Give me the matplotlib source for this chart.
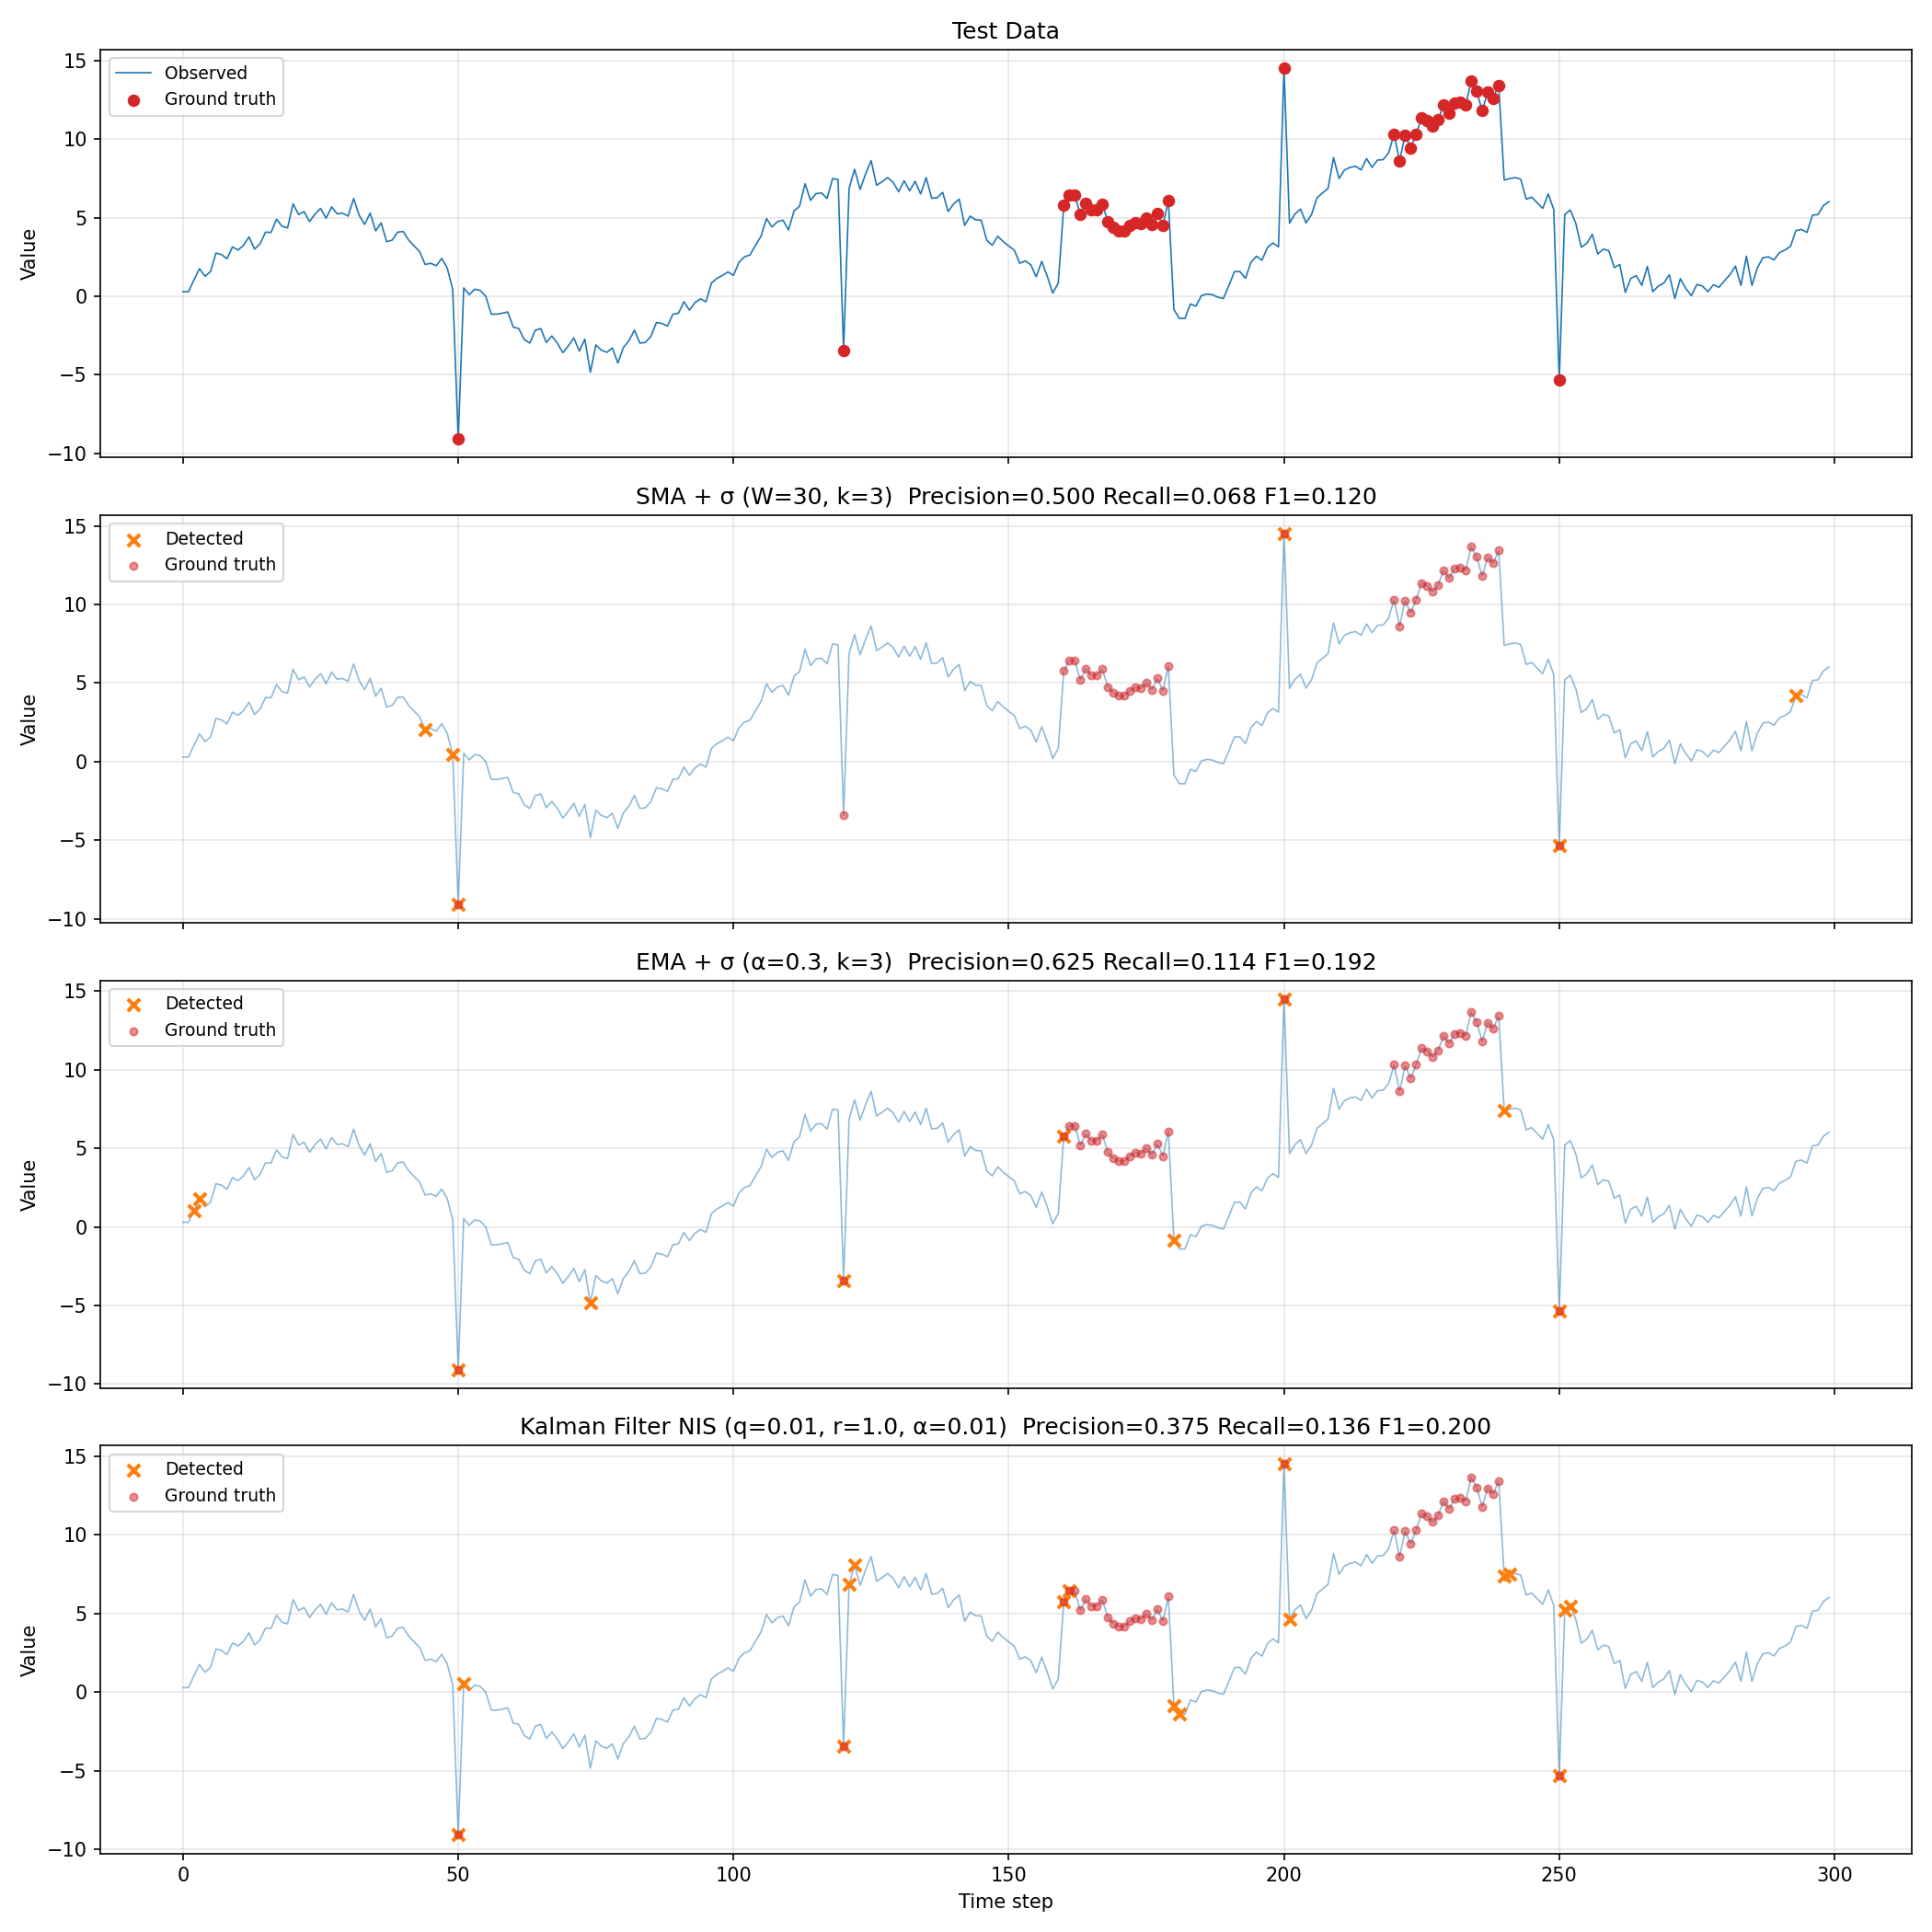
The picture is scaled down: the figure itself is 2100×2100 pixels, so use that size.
import numpy as np
import matplotlib
matplotlib.use("Agg")
import matplotlib.pyplot as plt

values = [
    0.29, 0.29, 1.04, 1.76, 1.27, 1.57, 2.75, 2.65, 2.39, 3.14,
    2.94, 3.24, 3.78, 3.00, 3.33, 4.08, 4.06, 4.90, 4.45, 4.35,
    5.88, 5.20, 5.39, 4.75, 5.24, 5.59, 4.96, 5.69, 5.24, 5.29,
    5.10, 6.22, 5.16, 4.57, 5.29, 4.16, 4.67, 3.47, 3.57, 4.08,
    4.12, 3.57, 3.20, 2.84, 2.02, 2.10, 1.94, 2.41, 1.80, 0.45,
    -9.08, 0.53, 0.10, 0.45, 0.37, 0.00, -1.14, -1.14, -1.08, -1.00,
    -1.96, -2.06, -2.75, -2.98, -2.16, -2.06, -2.94, -2.53, -2.98, -3.59,
    -3.16, -2.65, -3.49, -2.73, -4.84, -3.10, -3.43, -3.57, -3.29, -4.25,
    -3.27, -2.84, -2.16, -2.98, -2.94, -2.55, -1.67, -1.73, -1.90, -1.14,
    -1.08, -0.35, -0.88, -0.41, -0.16, -0.35, 0.84, 1.14, 1.33, 1.55,
    1.33, 2.16, 2.51, 2.63, 3.24, 3.82, 4.94, 4.41, 4.75, 4.84,
    4.22, 5.43, 5.73, 7.16, 6.10, 6.53, 6.57, 6.22, 7.49, 7.43,
    -3.43, 6.86, 8.08, 6.80, 7.78, 8.63, 7.06, 7.29, 7.55, 7.25,
    6.65, 7.35, 6.71, 7.31, 6.51, 7.55, 6.24, 6.27, 6.61, 5.39,
    5.88, 6.18, 4.51, 5.10, 4.86, 4.84, 3.57, 3.24, 3.82, 3.48,
    3.20, 2.94, 2.10, 2.25, 2.00, 1.24, 2.22, 1.27, 0.20, 0.84,
    5.78, 6.43, 6.43, 5.20, 5.92, 5.49, 5.49, 5.88, 4.75, 4.37,
    4.18, 4.18, 4.51, 4.71, 4.65, 5.00, 4.57, 5.29, 4.51, 6.08,
    -0.84, -1.41, -1.41, -0.49, -0.63, 0.04, 0.14, 0.10, -0.06, -0.14,
    0.69, 1.57, 1.57, 1.14, 2.16, 2.55, 2.29, 3.10, 3.39, 3.14,
    14.51, 4.65, 5.24, 5.55, 4.67, 5.20, 6.27, 6.57, 6.86, 8.82,
    7.49, 8.04, 8.20, 8.27, 8.04, 8.76, 8.20, 8.67, 8.69, 9.12,
    10.31, 8.61, 10.25, 9.45, 10.31, 11.37, 11.18, 10.82, 11.24, 12.16,
    11.67, 12.29, 12.35, 12.16, 13.67, 13.04, 11.80, 12.98, 12.61, 13.43,
    7.39, 7.49, 7.55, 7.45, 6.18, 6.31, 5.94, 5.59, 6.51, 5.53,
    -5.33, 5.20, 5.49, 4.65, 3.12, 3.37, 3.94, 2.69, 3.00, 2.90,
    1.82, 2.02, 0.24, 1.14, 1.31, 0.69, 1.90, 0.29, 0.65, 0.84,
    1.37, -0.14, 1.12, 0.49, 0.04, 0.75, 0.65, 0.29, 0.73, 0.57,
    0.98, 1.37, 1.92, 0.69, 2.55, 0.69, 1.82, 2.45, 2.51, 2.31,
    2.78, 2.94, 3.18, 4.18, 4.25, 4.06, 5.16, 5.20, 5.78, 6.02,
]

ground_truth_idx = [50, 120] + list(range(160, 180)) + [200] + list(range(220, 240)) + [250]

sma_detected = [44, 49, 50, 200, 250, 293]
ema_detected = [2, 3, 50, 74, 120, 160, 180, 200, 240, 250]
kalman_detected = [50, 51, 120, 121, 122, 160, 161, 180, 181, 200, 201, 240, 241, 250, 251, 252]

titles = [
    "SMA + σ (W=30, k=3)  Precision=0.500 Recall=0.068 F1=0.120",
    "EMA + σ (α=0.3, k=3)  Precision=0.625 Recall=0.114 F1=0.192",
    "Kalman Filter NIS (q=0.01, r=1.0, α=0.01)  Precision=0.375 Recall=0.136 F1=0.200",
]
detections = [sma_detected, ema_detected, kalman_detected]

y = np.array(values)
t = np.arange(len(y))
gt = np.array(ground_truth_idx)

fig, axes = plt.subplots(4, 1, figsize=(14, 14), dpi=150, sharex=True)

ax = axes[0]
ax.plot(t, y, color="tab:blue", lw=0.8, label="Observed")
ax.scatter(gt, y[gt], color="tab:red", s=30, zorder=5, label="Ground truth")
ax.set_title("Test Data")
ax.set_ylabel("Value")
ax.legend(loc="upper left", fontsize=9)
ax.grid(True, alpha=0.3)

for ax, title, det in zip(axes[1:], titles, detections):
    d = np.array(det)
    ax.plot(t, y, color="tab:blue", lw=0.8, alpha=0.5)
    ax.scatter(d, y[d], color="tab:orange", marker="x", s=40, linewidths=2, zorder=5, label="Detected")
    ax.scatter(gt, y[gt], color="tab:red", s=15, alpha=0.5, zorder=6, label="Ground truth")
    ax.set_title(title)
    ax.set_ylabel("Value")
    ax.legend(loc="upper left", fontsize=9)
    ax.grid(True, alpha=0.3)

axes[-1].set_xlabel("Time step")
fig.tight_layout()
fig.savefig("out.png", dpi=150)
